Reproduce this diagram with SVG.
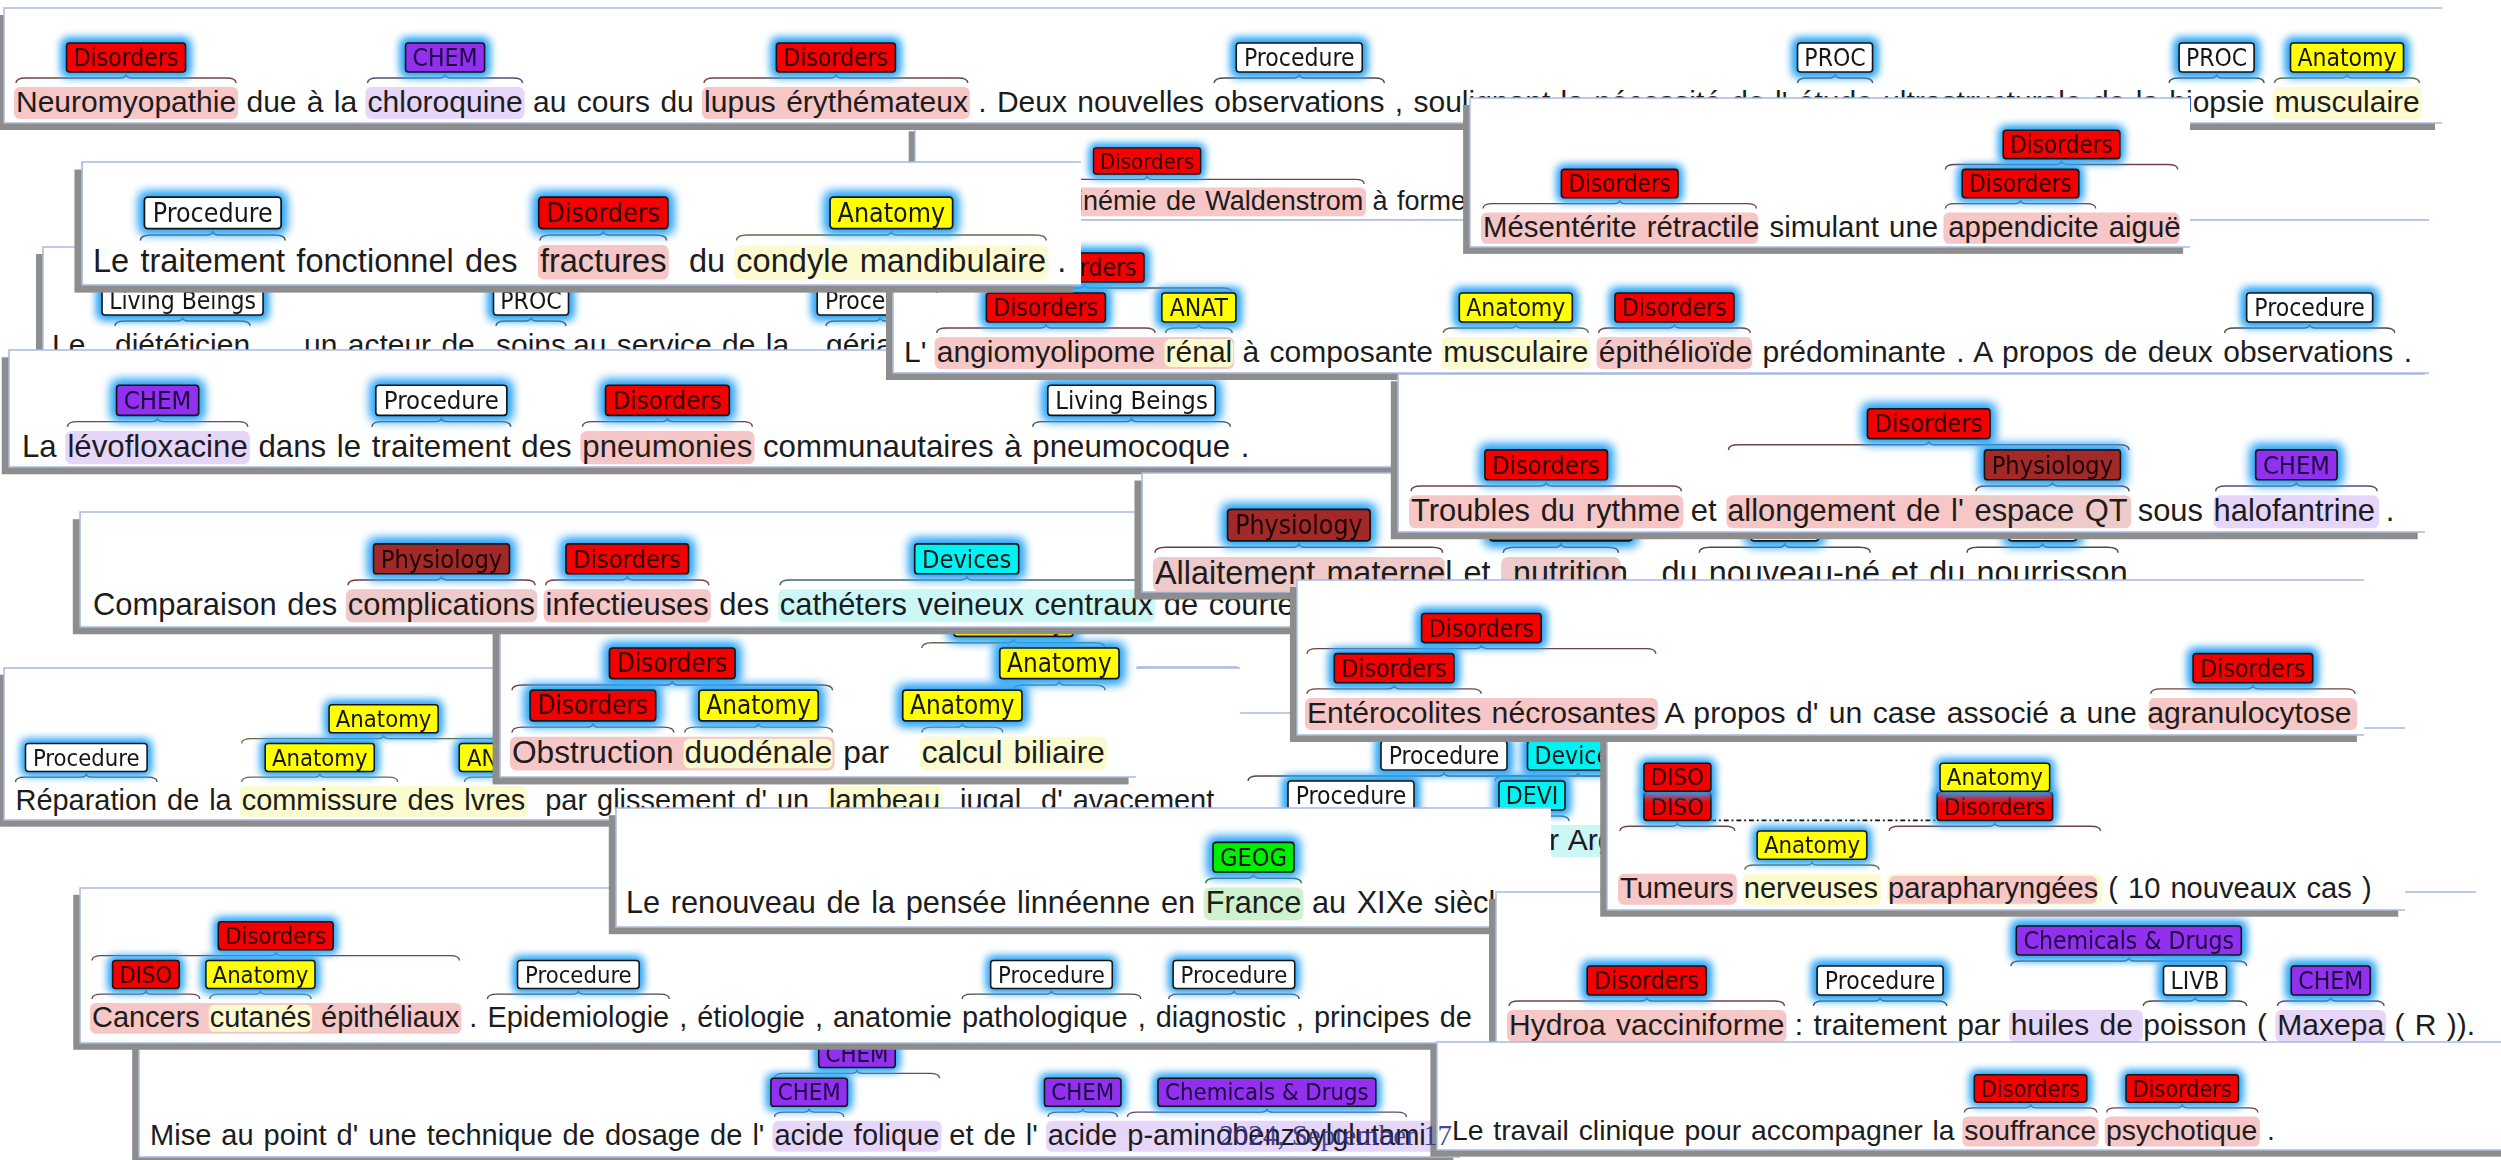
<svg xmlns="http://www.w3.org/2000/svg" width="2501" height="1160" viewBox="0 0 2501 1160">
<defs>
<filter id="glow" x="-30%" y="-80%" width="160%" height="260%" color-interpolation-filters="sRGB">
<feMorphology in="SourceAlpha" operator="dilate" radius="2.5" result="d"/>
<feGaussianBlur in="d" stdDeviation="5" result="b"/>
<feFlood flood-color="#2aa4f6"/>
<feComposite in2="b" operator="in" result="g"/>
<feMerge><feMergeNode in="g"/><feMergeNode in="g"/><feMergeNode in="SourceGraphic"/></feMerge>
</filter>
<style>
.tx{font-family:'Liberation Sans',Arial,sans-serif;font-size:30px;fill:#1c1c1c;word-spacing:2px}
.lb{filter:url(#glow)}
.lb rect{stroke:#151515;stroke-width:1.6;rx:3px}
.lb text{font-family:'DejaVu Sans Condensed','DejaVu Sans',sans-serif;font-stretch:condensed;font-size:24.5px;text-anchor:middle;fill:#161616}
.dis rect{fill:#f40000}.dis text{fill:#2a0000}
.chem rect{fill:#9130ee}.chem text{fill:#1e0640}
.anat rect{fill:#ffff00}
.proc rect{fill:#ffffff}
.phys rect{fill:#a32828}.phys text{fill:#1a0505}
.devi rect{fill:#00f2f2}
.geog rect{fill:#00ee00}
.hl{rx:6px}
.hdis{fill:#f7c6c6}.hchem{fill:#e6d6fa}.hanat{fill:#fcfacf}.hdevi{fill:#ccf7f7}.hgeog{fill:#cdf2cd}.hphys{fill:#eecaca}
.br{fill:none;stroke-width:1.4}
.bdis{stroke:#6e4444}.banat{stroke:#5e6e4a}.bchem{stroke:#5a4a7a}.bproc{stroke:#4a4a4a}.bdevi{stroke:#3e6a6a}.bgeog{stroke:#3e6a3e}.bphys{stroke:#6a3e3e}
.sh{fill:#8d8d8d}
.bg{fill:#ffffff}
.fr{fill:none;stroke:#a9b9de;stroke-width:1.5}
.rel{fill:none;stroke:#111;stroke-width:2;stroke-dasharray:5 3 2 3}
.stamp{font-family:'Liberation Serif','Times New Roman',serif;font-size:29px;fill:#2e2e85;fill-opacity:0.9}
</style>
</defs>
<rect width="2501" height="1160" fill="#ffffff"/>

<!-- sentence: dieteticien -->
<g id="p-dieteticien" transform="translate(52 355)">
<rect class="sh" x="-16" y="-101" width="960" height="123"/>
<rect class="bg" x="-9" y="-108" width="960" height="123"/>
<path class="fr" d="M951 -108H-9V15H951"/>
<text class="tx"><tspan x="0">Le</tspan><tspan x="63">diététicien</tspan><tspan x="209">,</tspan><tspan x="252">un acteur de</tspan><tspan x="444">soins</tspan><tspan x="521">au service de la</tspan><tspan x="774">géria</tspan></text>
<path class="br bproc" d="M63 -29q0-5 10-5H124.55q6 0 6-4q0 4 6 4H188.1q10 0 10 5"/>
<path class="br bproc" d="M444 -29q0-5 10-5H473q6 0 6-4q0 4 6 4H504q10 0 10 5"/>
<path class="br bproc" d="M774 -29q0-5 10-5H822.2q6 0 6-4q0 4 6 4H872.4q10 0 10 5"/>
<g class="lb proc"><rect x="50.05" y="-69" width="161" height="29"/><text x="130.55" y="-46">Living Beings</text></g>
<g class="lb proc"><rect x="441.5" y="-69" width="75" height="29"/><text x="479" y="-46">PROC</text></g>
<g class="lb proc"><rect x="765.2" y="-69" width="126" height="29"/><text x="828.2" y="-46">Procedure</text></g>
</g>

<!-- sentence: Waldenstrom -->
<g id="p-waldenstrom" transform="translate(930 210) scale(0.9)">
<rect class="sh" x="-23.7" y="-87.4" width="1682" height="105.6"/>
<rect class="bg" x="-16.7" y="-94.4" width="1682" height="105.6"/>
<path class="fr" d="M1665.3 -94.4H-16.7V11.2H1665.3"/>
<rect class="hl hdis" x="-2" y="-25" width="486.4" height="32"/>
<text class="tx" x="163.4">inémie de Waldenstrom à forme</text>
<path class="br bdis" d="M0 -29q0-5 10-5H235.2q6 0 6-4q0 4 6 4H472.4q10 0 10 5"/>
<g class="lb dis"><rect x="181.7" y="-69" width="119" height="29"/><text x="241.2" y="-46">Disorders</text></g>
</g>

<!-- sentence: Neuromyopathie -->
<g id="p-neuromyopathie" transform="translate(16 112)">
<rect class="sh" x="-19" y="-97" width="2438" height="115"/>
<rect class="bg" x="-12" y="-104" width="2438" height="115"/>
<path class="fr" d="M2426 -104H-12V11H2426"/>
<rect class="hl hdis" x="-2" y="-25" width="224.1" height="32"/>
<rect class="hl hchem" x="349.5" y="-25" width="159.1" height="32"/>
<rect class="hl hdis" x="686" y="-25" width="267.8" height="32"/>
<rect class="hl hanat" x="2256.5" y="-25" width="149" height="32"/>
<text class="tx">Neuromyopathie due à la chloroquine au cours du lupus érythémateux . Deux nouvelles observations , soulignant la nécessité de l' étude ultrastructurale de la biopsie musculaire</text>
<path class="br bdis" d="M0 -29q0-5 10-5H104.05q6 0 6-4q0 4 6 4H210.1q10 0 10 5"/>
<path class="br bchem" d="M351.5 -29q0-5 10-5H423.05q6 0 6-4q0 4 6 4H496.6q10 0 10 5"/>
<path class="br bdis" d="M688 -29q0-5 10-5H813.9q6 0 6-4q0 4 6 4H941.8q10 0 10 5"/>
<path class="br bproc" d="M1198.2 -29q0-5 10-5H1277.25q6 0 6-4q0 4 6 4H1358.3q10 0 10 5"/>
<path class="br bproc" d="M1781.5 -29q0-5 10-5H1813.05q6 0 6-4q0 4 6 4H1846.6q10 0 10 5"/>
<path class="br bproc" d="M2153.1 -29q0-5 10-5H2194.6q6 0 6-4q0 4 6 4H2238.1q10 0 10 5"/>
<path class="br banat" d="M2258.5 -29q0-5 10-5H2325q6 0 6-4q0 4 6 4H2393.5q10 0 10 5"/>
<g class="lb dis"><rect x="50.55" y="-69" width="119" height="29"/><text x="110.05" y="-46">Disorders</text></g>
<g class="lb chem"><rect x="389.55" y="-69" width="79" height="29"/><text x="429.05" y="-46">CHEM</text></g>
<g class="lb dis"><rect x="760.4" y="-69" width="119" height="29"/><text x="819.9" y="-46">Disorders</text></g>
<g class="lb proc"><rect x="1220.25" y="-69" width="126" height="29"/><text x="1283.25" y="-46">Procedure</text></g>
<g class="lb proc"><rect x="1781.55" y="-69" width="75" height="29"/><text x="1819.05" y="-46">PROC</text></g>
<g class="lb proc"><rect x="2163.1" y="-69" width="75" height="29"/><text x="2200.6" y="-46">PROC</text></g>
<g class="lb anat"><rect x="2274.5" y="-69" width="113" height="29"/><text x="2331" y="-46">Anatomy</text></g>
</g>

<!-- sentence: levofloxacine -->
<g id="p-levofloxacine" transform="translate(22 457) scale(1.04)">
<rect class="sh" x="-19.5" y="-95.9" width="1356.7" height="112.5"/>
<rect class="bg" x="-12.5" y="-102.9" width="1356.7" height="112.5"/>
<path class="fr" d="M1344.2 -102.9H-12.5V9.6H1344.2"/>
<rect class="hl hchem" x="41.7" y="-25" width="177.4" height="32"/>
<rect class="hl hdis" x="536.9" y="-25" width="167.4" height="32"/>
<text class="tx">La lévofloxacine dans le traitement des pneumonies communautaires à pneumocoque .</text>
<path class="br bchem" d="M43.7 -29q0-5 10-5H124.4q6 0 6-4q0 4 6 4H207.1q10 0 10 5"/>
<path class="br bproc" d="M336.5 -29q0-5 10-5H397.2q6 0 6-4q0 4 6 4H459.9q10 0 10 5"/>
<path class="br bdis" d="M538.9 -29q0-5 10-5H614.6q6 0 6-4q0 4 6 4H692.3q10 0 10 5"/>
<path class="br bproc" d="M971.8 -29q0-5 10-5H1060.85q6 0 6-4q0 4 6 4H1151.9q10 0 10 5"/>
<g class="lb chem"><rect x="90.9" y="-69" width="79" height="29"/><text x="130.4" y="-46">CHEM</text></g>
<g class="lb proc"><rect x="340.2" y="-69" width="126" height="29"/><text x="403.2" y="-46">Procedure</text></g>
<g class="lb dis"><rect x="561.1" y="-69" width="119" height="29"/><text x="620.6" y="-46">Disorders</text></g>
<g class="lb proc"><rect x="986.35" y="-69" width="161" height="29"/><text x="1066.85" y="-46">Living Beings</text></g>
</g>

<!-- sentence: angiomyolipome -->
<g id="p-angiomyolipome" transform="translate(904 362)">
<rect class="sh" x="-18" y="-135" width="1536" height="153"/>
<rect class="bg" x="-11" y="-142" width="1536" height="153"/>
<path class="fr" d="M1525 -142H-11V11H1525"/>
<rect class="hl hdis" x="30.7" y="-25" width="299.5" height="32"/>
<rect class="hl hanat" x="260.5" y="-23" width="68.7" height="28"/>
<rect class="hl hanat" x="537.3" y="-25" width="149" height="32"/>
<rect class="hl hdis" x="692.6" y="-25" width="155.7" height="32"/>
<text class="tx">L' angiomyolipome rénal à composante musculaire épithélioïde prédominante . A propos de deux observations .</text>
<path class="br bdis" d="M32.7 -69q0-5 10-5H174.45q6 0 6-4q0 4 6 4H318.2q10 0 10 5"/>
<path class="br bdis" d="M32.7 -29q0-5 10-5H135.9q6 0 6-4q0 4 6 4H241.1q10 0 10 5"/>
<path class="br banat" d="M261.5 -29q0-5 10-5H288.85q6 0 6-4q0 4 6 4H318.2q10 0 10 5"/>
<path class="br banat" d="M539.3 -29q0-5 10-5H605.8q6 0 6-4q0 4 6 4H674.3q10 0 10 5"/>
<path class="br bdis" d="M694.6 -29q0-5 10-5H764.45q6 0 6-4q0 4 6 4H836.3q10 0 10 5"/>
<path class="br bproc" d="M1320.6 -29q0-5 10-5H1399.65q6 0 6-4q0 4 6 4H1480.7q10 0 10 5"/>
<g class="lb dis"><rect x="120.95" y="-109" width="119" height="29"/><text x="180.45" y="-86">Disorders</text></g>
<g class="lb dis"><rect x="82.4" y="-69" width="119" height="29"/><text x="141.9" y="-46">Disorders</text></g>
<g class="lb anat"><rect x="257.85" y="-69" width="74" height="29"/><text x="294.85" y="-46">ANAT</text></g>
<g class="lb anat"><rect x="555.3" y="-69" width="113" height="29"/><text x="611.8" y="-46">Anatomy</text></g>
<g class="lb dis"><rect x="710.95" y="-69" width="119" height="29"/><text x="770.45" y="-46">Disorders</text></g>
<g class="lb proc"><rect x="1342.65" y="-69" width="126" height="29"/><text x="1405.65" y="-46">Procedure</text></g>
</g>

<!-- sentence: condyle mandibulaire -->
<g id="p-condyle" transform="translate(93 272) scale(1.085)">
<rect class="sh" x="-17.1" y="-94.4" width="920.7" height="113.4"/>
<rect class="bg" x="-10.1" y="-101.4" width="920.7" height="113.4"/>
<path class="fr" d="M910.6 -101.4H-10.1V12H910.6"/>
<rect class="hl hdis" x="410" y="-25" width="120.7" height="32"/>
<rect class="hl hanat" x="591.1" y="-25" width="289.4" height="32"/>
<text class="tx" xml:space="preserve">Le traitement fonctionnel des  fractures  du condyle mandibulaire .</text>
<path class="br bproc" d="M43.7 -29q0-5 10-5H104.4q6 0 6-4q0 4 6 4H167.1q10 0 10 5"/>
<path class="br bdis" d="M412 -29q0-5 10-5H464.35q6 0 6-4q0 4 6 4H518.7q10 0 10 5"/>
<path class="br banat" d="M593.1 -29q0-5 10-5H729.8q6 0 6-4q0 4 6 4H868.5q10 0 10 5"/>
<g class="lb proc"><rect x="47.4" y="-69" width="126" height="29"/><text x="110.4" y="-46">Procedure</text></g>
<g class="lb dis"><rect x="410.85" y="-69" width="119" height="29"/><text x="470.35" y="-46">Disorders</text></g>
<g class="lb anat"><rect x="679.3" y="-69" width="113" height="29"/><text x="735.8" y="-46">Anatomy</text></g>
</g>

<!-- sentence: mesenterite -->
<g id="p-mesenterite" transform="translate(1483 237) scale(0.98)">
<rect class="sh" x="-20.3" y="-134.8" width="734.7" height="152"/>
<rect class="bg" x="-13.3" y="-141.8" width="734.7" height="152"/>
<path class="fr" d="M721.4 -141.8H-13.3V10.2H721.4"/>
<rect class="hl hdis" x="-2" y="-25" width="283" height="32"/>
<rect class="hl hdis" x="469.8" y="-25" width="241.1" height="32"/>
<text class="tx">Mésentérite rétractile simulant une appendicite aiguë</text>
<path class="br bdis" d="M0 -29q0-5 10-5H133.5q6 0 6-4q0 4 6 4H269q10 0 10 5"/>
<path class="br bdis" d="M471.8 -29q0-5 10-5H542.5q6 0 6-4q0 4 6 4H615.2q10 0 10 5"/>
<path class="br bdis" d="M471.8 -69q0-5 10-5H584.35q6 0 6-4q0 4 6 4H698.9q10 0 10 5"/>
<g class="lb dis"><rect x="80" y="-69" width="119" height="29"/><text x="139.5" y="-46">Disorders</text></g>
<g class="lb dis"><rect x="489" y="-69" width="119" height="29"/><text x="548.5" y="-46">Disorders</text></g>
<g class="lb dis"><rect x="530.85" y="-109" width="119" height="29"/><text x="590.35" y="-86">Disorders</text></g>
</g>

<!-- edge of a frame lying underneath -->
<path class="fr" d="M1137 667H1238"/>

<!-- sentence: commissure des levres -->
<g id="p-commissure" transform="translate(15.5 810) scale(0.965)">
<rect class="sh" x="-18.9" y="-140.2" width="1280.8" height="157.5"/>
<rect class="bg" x="-11.9" y="-147.2" width="1280.8" height="157.5"/>
<path class="fr" d="M1268.9 -147.2H-11.9V10.3H1268.9"/>
<rect class="hl hanat" x="232.4" y="-25" width="298.1" height="32"/>
<rect class="hl hanat" x="841.5" y="-25" width="119.1" height="32"/>
<text class="tx" xml:space="preserve">Réparation de la commissure des lvres  par glissement d' un  lambeau  jugal  d' avacement</text>
<path class="br bproc" d="M0 -29q0-5 10-5H67.35q6 0 6-4q0 4 6 4H136.7q10 0 10 5"/>
<path class="br banat" d="M234.4 -29q0-5 10-5H309.25q6 0 6-4q0 4 6 4H386.1q10 0 10 5"/>
<path class="br banat" d="M465.2 -29q0-5 10-5H490.85q6 0 6-4q0 4 6 4H518.5q10 0 10 5"/>
<path class="br banat" d="M234.4 -69q0-5 10-5H375.45q6 0 6-4q0 4 6 4H518.5q10 0 10 5"/>
<path class="br banat" d="M843.5 -29q0-5 10-5H895.05q6 0 6-4q0 4 6 4H948.6q10 0 10 5"/>
<path class="br banat" d="M979.3 -29q0-5 10-5H1005q6 0 6-4q0 4 6 4H1032.7q10 0 10 5"/>
<g class="lb proc"><rect x="10.35" y="-69" width="126" height="29"/><text x="73.35" y="-46">Procedure</text></g>
<g class="lb anat"><rect x="258.75" y="-69" width="113" height="29"/><text x="315.25" y="-46">Anatomy</text></g>
<g class="lb anat"><rect x="459.85" y="-69" width="74" height="29"/><text x="496.85" y="-46">ANAT</text></g>
<g class="lb anat"><rect x="324.95" y="-109" width="113" height="29"/><text x="381.45" y="-86">Anatomy</text></g>
</g>

<!-- sentence: obstruction duodenale -->
<g id="p-obstruction" transform="translate(512 763) scale(1.055)">
<rect class="sh" x="-18.4" y="-152.2" width="602.8" height="172.5"/>
<rect class="bg" x="-11.4" y="-159.2" width="602.8" height="172.5"/>
<path class="fr" d="M591.4 -159.2H-11.4V13.3H591.4"/>
<rect class="hl hdis" x="-2" y="-25" width="307.8" height="32"/>
<rect class="hl hanat" x="162.7" y="-23" width="141.1" height="28"/>
<rect class="hl hanat" x="386.5" y="-25" width="177.7" height="32"/>
<text class="tx" xml:space="preserve">Obstruction duodénale par   calcul biliaire</text>
<path class="br bdis" d="M0 -29q0-5 10-5H70.7q6 0 6-4q0 4 6 4H143.4q10 0 10 5"/>
<path class="br banat" d="M163.7 -29q0-5 10-5H227.75q6 0 6-4q0 4 6 4H293.8q10 0 10 5"/>
<path class="br bdis" d="M0 -69q0-5 10-5H145.9q6 0 6-4q0 4 6 4H293.8q10 0 10 5"/>
<path class="br banat" d="M388.5 -29q0-5 10-5H420.85q6 0 6-4q0 4 6 4H455.2q10 0 10 5"/>
<path class="br banat" d="M475.5 -69q0-5 10-5H512.85q6 0 6-4q0 4 6 4H552.2q10 0 10 5"/>
<path class="br banat" d="M388.5 -109q0-5 10-5H469.35q6 0 6-4q0 4 6 4H552.2q10 0 10 5"/>
<g class="lb dis"><rect x="17.2" y="-69" width="119" height="29"/><text x="76.7" y="-46">Disorders</text></g>
<g class="lb anat"><rect x="177.25" y="-69" width="113" height="29"/><text x="233.75" y="-46">Anatomy</text></g>
<g class="lb dis"><rect x="92.4" y="-109" width="119" height="29"/><text x="151.9" y="-86">Disorders</text></g>
<g class="lb anat"><rect x="370.35" y="-69" width="113" height="29"/><text x="426.85" y="-46">Anatomy</text></g>
<g class="lb anat"><rect x="462.35" y="-109" width="113" height="29"/><text x="518.85" y="-86">Anatomy</text></g>
<g class="lb anat"><rect x="418.85" y="-149" width="113" height="29"/><text x="475.35" y="-126">Anatomy</text></g>
</g>

<!-- sentence: catheters -->
<g id="p-catheters" transform="translate(93 615) scale(1.03)">
<rect class="sh" x="-19.6" y="-93" width="1184.5" height="111.7"/>
<rect class="bg" x="-12.6" y="-100" width="1184.5" height="111.7"/>
<path class="fr" d="M1171.9 -100H-12.6V11.7H1171.9"/>
<rect class="hl hphys" x="245.5" y="-25" width="185.7" height="32"/>
<rect class="hl hdis" x="437.5" y="-25" width="162.4" height="32"/>
<rect class="hl hdevi" x="665" y="-25" width="366.5" height="32"/>
<text class="tx">Comparaison des complications infectieuses des cathéters veineux centraux de courte</text>
<path class="br bphys" d="M247.5 -29q0-5 10-5H332.35q6 0 6-4q0 4 6 4H419.2q10 0 10 5"/>
<path class="br bdis" d="M439.5 -29q0-5 10-5H512.7q6 0 6-4q0 4 6 4H587.9q10 0 10 5"/>
<path class="br bdevi" d="M667 -29q0-5 10-5H842.25q6 0 6-4q0 4 6 4H1019.5q10 0 10 5"/>
<g class="lb phys"><rect x="272.35" y="-69" width="132" height="29"/><text x="338.35" y="-46">Physiology</text></g>
<g class="lb dis"><rect x="459.2" y="-69" width="119" height="29"/><text x="518.7" y="-46">Disorders</text></g>
<g class="lb devi"><rect x="797.75" y="-69" width="101" height="29"/><text x="848.25" y="-46">Devices</text></g>
</g>

<!-- sentence: allaitement -->
<g id="p-allaitement" transform="translate(1155 584) scale(1.08)">
<rect class="sh" x="-19" y="-95.8" width="924" height="110.2"/>
<rect class="bg" x="-12" y="-102.8" width="924" height="110.2"/>
<path class="fr" d="M912 -102.8H-12V7.4H912"/>
<rect class="hl hphys" x="-2" y="-25" width="270.4" height="32"/>
<rect class="hl hphys" x="320.5" y="-25" width="110.7" height="32"/>
<text class="tx" xml:space="preserve">Allaitement maternel et  nutrition   du nouveau-né et du nourrisson</text>
<path class="br bphys" d="M0 -29q0-5 10-5H127.2q6 0 6-4q0 4 6 4H256.4q10 0 10 5"/>
<path class="br bphys" d="M322.5 -29q0-5 10-5H369.85q6 0 6-4q0 4 6 4H419.2q10 0 10 5"/>
<path class="br bproc" d="M503.9 -29q0-5 10-5H577.1q6 0 6-4q0 4 6 4H652.3q10 0 10 5"/>
<path class="br bproc" d="M751.8 -29q0-5 10-5H815.8q6 0 6-4q0 4 6 4H881.8q10 0 10 5"/>
<g class="lb phys"><rect x="67.2" y="-69" width="132" height="29"/><text x="133.2" y="-46">Physiology</text></g>
<g class="lb phys"><rect x="309.85" y="-69" width="132" height="29"/></g>
<g class="lb proc"><rect x="551.6" y="-69" width="63" height="29"/></g>
<g class="lb proc"><rect x="790.3" y="-69" width="63" height="29"/></g>
</g>

<!-- sentence: troubles du rythme -->
<g id="p-troubles" transform="translate(1411 521) scale(1.03)">
<rect class="sh" x="-19.6" y="-135.7" width="997" height="153.4"/>
<rect class="bg" x="-12.6" y="-142.7" width="997" height="153.4"/>
<path class="fr" d="M984.4 -142.7H-12.6V10.7H984.4"/>
<rect class="hl hdis" x="-2" y="-25" width="266.5" height="32"/>
<rect class="hl hdis" x="306.2" y="-25" width="392.9" height="32"/>
<rect class="hl hphys" x="547.4" y="-24" width="150.7" height="30"/>
<rect class="hl hchem" x="779.2" y="-25" width="160.8" height="32"/>
<text class="tx">Troubles du rythme et allongement de l' espace QT sous halofantrine .</text>
<path class="br bdis" d="M0 -29q0-5 10-5H125.25q6 0 6-4q0 4 6 4H252.5q10 0 10 5"/>
<path class="br bdis" d="M308.2 -69q0-5 10-5H496.65q6 0 6-4q0 4 6 4H687.1q10 0 10 5"/>
<path class="br bphys" d="M548.4 -29q0-5 10-5H616.75q6 0 6-4q0 4 6 4H687.1q10 0 10 5"/>
<path class="br bchem" d="M781.2 -29q0-5 10-5H853.6q6 0 6-4q0 4 6 4H928q10 0 10 5"/>
<g class="lb dis"><rect x="71.75" y="-69" width="119" height="29"/><text x="131.25" y="-46">Disorders</text></g>
<g class="lb dis"><rect x="443.15" y="-109" width="119" height="29"/><text x="502.65" y="-86">Disorders</text></g>
<g class="lb phys"><rect x="556.75" y="-69" width="132" height="29"/><text x="622.75" y="-46">Physiology</text></g>
<g class="lb chem"><rect x="820.1" y="-69" width="79" height="29"/><text x="859.6" y="-46">CHEM</text></g>
</g>

<!-- sentence: devices fragment -->
<g id="p-devices" transform="translate(1240 850)">
<rect class="bg" x="0" y="-137" width="400" height="150"/>
<path class="fr" d="M400 -137H0"/>
<rect class="hl hdevi" x="253" y="-25" width="170" height="32"/>
<text class="tx" x="309">r Arg</text>
<path class="br bproc" d="M8 -69q0-5 10-5H198q6 0 6-4q0 4 6 4H390q10 0 10 5"/>
<path class="br bdevi" d="M255 -69q0-5 10-5H332q6 0 6-4q0 4 6 4H411q10 0 10 5"/>
<path class="br bproc" d="M50 -29q0-5 10-5H105q6 0 6-4q0 4 6 4H162q10 0 10 5"/>
<path class="br bdevi" d="M255 -29q0-5 10-5H286q6 0 6-4q0 4 6 4H319q10 0 10 5"/>
<g class="lb proc"><rect x="141" y="-109" width="126" height="29"/><text x="204" y="-86">Procedure</text></g>
<g class="lb devi"><rect x="287.5" y="-109" width="101" height="29"/><text x="338" y="-86">Devices</text></g>
<g class="lb proc"><rect x="48" y="-69" width="126" height="29"/><text x="111" y="-46">Procedure</text></g>
<g class="lb devi"><rect x="259" y="-69" width="66" height="29"/><text x="292" y="-46">DEVI</text></g>
</g>

<!-- sentence: acide folique -->
<g id="p-acide-folique" transform="translate(150 1145) scale(0.968)">
<rect class="sh" x="-18.4" y="-111.8" width="1364.7" height="131.2"/>
<rect class="bg" x="-11.4" y="-118.8" width="1364.7" height="131.2"/>
<path class="fr" d="M1353.3 -118.8H-11.4V12.4H1353.3"/>
<rect class="hl hchem" x="643.1" y="-25" width="174.5" height="32"/>
<rect class="hl hchem" x="925.7" y="-25" width="444.5" height="32"/>
<text class="tx">Mise au point d' une technique de dosage de l' acide folique et de l' acide p-aminobenzoylglutami</text>
<path class="br bchem" d="M645.1 -29q0-5 10-5H674.95q6 0 6-4q0 4 6 4H706.8q10 0 10 5"/>
<path class="br bchem" d="M645.1 -69q0-5 10-5H724.35q6 0 6-4q0 4 6 4H805.6q10 0 10 5"/>
<path class="br bchem" d="M927.7 -29q0-5 10-5H957.55q6 0 6-4q0 4 6 4H989.4q10 0 10 5"/>
<path class="br bchem" d="M1009.7 -29q0-5 10-5H1147.85q6 0 6-4q0 4 6 4H1288q10 0 10 5"/>
<g class="lb chem"><rect x="641.45" y="-69" width="79" height="29"/><text x="680.95" y="-46">CHEM</text></g>
<g class="lb chem"><rect x="690.85" y="-109" width="79" height="29"/><text x="730.35" y="-86">CHEM</text></g>
<g class="lb chem"><rect x="924.05" y="-69" width="79" height="29"/><text x="963.55" y="-46">CHEM</text></g>
<g class="lb chem"><rect x="1041.35" y="-69" width="225" height="29"/><text x="1153.85" y="-46">Chemicals &amp; Drugs</text></g>
</g>

<!-- sentence: cancers cutanes -->
<g id="p-cancers" transform="translate(92 1027) scale(0.965)">
<rect class="sh" x="-19.4" y="-137" width="1471.5" height="160.6"/>
<rect class="bg" x="-12.4" y="-144" width="1471.5" height="160.6"/>
<path class="fr" d="M1459.1 -144H-12.4V16.6H1459.1"/>
<rect class="hl hdis" x="-2" y="-25" width="384.8" height="32"/>
<rect class="hl hanat" x="121" y="-23" width="107.1" height="28"/>
<text class="tx">Cancers cutanés épithéliaux . Epidemiologie , étiologie , anatomie pathologique , diagnostic , principes de</text>
<path class="br bdis" d="M0 -29q0-5 10-5H49.85q6 0 6-4q0 4 6 4H101.7q10 0 10 5"/>
<path class="br banat" d="M122 -29q0-5 10-5H168.55q6 0 6-4q0 4 6 4H217.1q10 0 10 5"/>
<path class="br bdis" d="M0 -69q0-5 10-5H184.4q6 0 6-4q0 4 6 4H370.8q10 0 10 5"/>
<path class="br bproc" d="M409.8 -29q0-5 10-5H498q6 0 6-4q0 4 6 4H588.2q10 0 10 5"/>
<path class="br bproc" d="M901.7 -29q0-5 10-5H988.25q6 0 6-4q0 4 6 4H1076.8q10 0 10 5"/>
<path class="br bproc" d="M1115.8 -29q0-5 10-5H1177.35q6 0 6-4q0 4 6 4H1240.9q10 0 10 5"/>
<g class="lb dis"><rect x="21.35" y="-69" width="69" height="29"/><text x="55.85" y="-46">DISO</text></g>
<g class="lb anat"><rect x="118.05" y="-69" width="113" height="29"/><text x="174.55" y="-46">Anatomy</text></g>
<g class="lb dis"><rect x="130.9" y="-109" width="119" height="29"/><text x="190.4" y="-86">Disorders</text></g>
<g class="lb proc"><rect x="441" y="-69" width="126" height="29"/><text x="504" y="-46">Procedure</text></g>
<g class="lb proc"><rect x="931.25" y="-69" width="126" height="29"/><text x="994.25" y="-46">Procedure</text></g>
<g class="lb proc"><rect x="1120.35" y="-69" width="126" height="29"/><text x="1183.35" y="-46">Procedure</text></g>
</g>

<!-- sentence: pensee linneenne -->
<g id="p-linneenne" transform="translate(626 913) scale(1.024)">
<rect class="sh" x="-16.8" y="-95.5" width="913" height="116.2"/>
<rect class="bg" x="-9.8" y="-102.5" width="913" height="116.2"/>
<path class="fr" d="M903.2 -102.5H-9.8V13.7H903.2"/>
<rect class="hl hgeog" x="564.1" y="-25" width="97.4" height="32"/>
<text class="tx">Le renouveau de la pensée linnéenne en France au XIXe siècle</text>
<path class="br bgeog" d="M566.1 -29q0-5 10-5H606.8q6 0 6-4q0 4 6 4H649.5q10 0 10 5"/>
<g class="lb geog"><rect x="573.3" y="-69" width="79" height="29"/><text x="612.8" y="-46">GEOG</text></g>
</g>

<!-- sentence: hydroa -->
<g id="p-hydroa" transform="translate(1509 1035)">
<rect class="sh" x="-20" y="-136" width="980" height="154"/>
<rect class="bg" x="-13" y="-143" width="980" height="154"/>
<path class="fr" d="M967 -143H-13V11H967"/>
<rect class="hl hdis" x="-2" y="-25" width="279.4" height="32"/>
<rect class="hl hchem" x="499.9" y="-25" width="134" height="32"/>
<rect class="hl hchem" x="766.4" y="-25" width="110.7" height="32"/>
<text class="tx">Hydroa vacciniforme : traitement par huiles de poisson ( Maxepa ( R )).</text>
<path class="br bdis" d="M0 -29q0-5 10-5H131.7q6 0 6-4q0 4 6 4H265.4q10 0 10 5"/>
<path class="br bproc" d="M304.4 -29q0-5 10-5H365.1q6 0 6-4q0 4 6 4H427.8q10 0 10 5"/>
<path class="br bchem" d="M501.9 -69q0-5 10-5H613.8q6 0 6-4q0 4 6 4H727.7q10 0 10 5"/>
<path class="br bproc" d="M634.3 -29q0-5 10-5H680q6 0 6-4q0 4 6 4H727.7q10 0 10 5"/>
<path class="br bchem" d="M768.4 -29q0-5 10-5H815.75q6 0 6-4q0 4 6 4H865.1q10 0 10 5"/>
<g class="lb dis"><rect x="78.2" y="-69" width="119" height="29"/><text x="137.7" y="-46">Disorders</text></g>
<g class="lb proc"><rect x="308.1" y="-69" width="126" height="29"/><text x="371.1" y="-46">Procedure</text></g>
<g class="lb chem"><rect x="507.3" y="-109" width="225" height="29"/><text x="619.8" y="-86">Chemicals &amp; Drugs</text></g>
<g class="lb proc"><rect x="654.5" y="-69" width="63" height="29"/><text x="686" y="-46">LIVB</text></g>
<g class="lb chem"><rect x="782.25" y="-69" width="79" height="29"/><text x="821.75" y="-46">CHEM</text></g>
</g>

<!-- sentence: tumeurs nerveuses -->
<g id="p-tumeurs" transform="translate(1620 898) scale(0.97)">
<rect class="sh" x="-20.4" y="-168.3" width="822.7" height="187.6"/>
<rect class="bg" x="-13.4" y="-175.3" width="822.7" height="187.6"/>
<path class="fr" d="M809.3 -175.3H-13.4V12.3H809.3"/>
<rect class="hl hdis" x="-2" y="-25" width="122.4" height="32"/>
<rect class="hl hanat" x="126.7" y="-25" width="142.4" height="32"/>
<rect class="hl hanat" x="275.5" y="-25" width="221.9" height="32"/>
<rect class="hl hdis" x="277.5" y="-23" width="214" height="29"/>
<text class="tx">Tumeurs nerveuses parapharyngées ( 10 nouveaux cas )</text>
<path class="br bdis" d="M0 -69q0-5 10-5H53.2q6 0 6-4q0 4 6 4H108.4q10 0 10 5"/>
<path class="br banat" d="M128.7 -29q0-5 10-5H191.9q6 0 6-4q0 4 6 4H257.1q10 0 10 5"/>
<path class="br bdis" d="M277.5 -69q0-5 10-5H380.45q6 0 6-4q0 4 6 4H485.4q10 0 10 5"/>
<path class="rel" d="M94 -80H327"/>
<g class="lb dis"><rect x="24.7" y="-109" width="69" height="29"/><text x="59.2" y="-86">DISO</text></g>
<g class="lb dis"><rect x="24.7" y="-139" width="69" height="29"/><text x="59.2" y="-116">DISO</text></g>
<g class="lb anat"><rect x="141.4" y="-69" width="113" height="29"/><text x="197.9" y="-46">Anatomy</text></g>
<g class="lb dis"><rect x="326.95" y="-109" width="119" height="29"/><text x="386.45" y="-86">Disorders</text></g>
<g class="lb anat"><rect x="329.95" y="-139" width="113" height="29"/><text x="386.45" y="-116">Anatomy</text></g>
</g>

<!-- sentence: enterocolites -->
<g id="p-enterocolites" transform="translate(1307 723) scale(1.005)">
<rect class="sh" x="-17" y="-135.3" width="1061.7" height="154.2"/>
<rect class="bg" x="-10" y="-142.3" width="1061.7" height="154.2"/>
<path class="fr" d="M1051.7 -142.3H-10V11.9H1051.7"/>
<rect class="hl hdis" x="-2" y="-25" width="351.1" height="32"/>
<rect class="hl hdis" x="837.5" y="-25" width="207.4" height="32"/>
<text class="tx">Entérocolites nécrosantes A propos d' un case associé a une agranulocytose</text>
<path class="br bdis" d="M0 -29q0-5 10-5H80.7q6 0 6-4q0 4 6 4H163.4q10 0 10 5"/>
<path class="br bdis" d="M0 -69q0-5 10-5H167.55q6 0 6-4q0 4 6 4H337.1q10 0 10 5"/>
<path class="br bdis" d="M839.5 -29q0-5 10-5H935.2q6 0 6-4q0 4 6 4H1032.9q10 0 10 5"/>
<g class="lb dis"><rect x="27.2" y="-69" width="119" height="29"/><text x="86.7" y="-46">Disorders</text></g>
<g class="lb dis"><rect x="114.05" y="-109" width="119" height="29"/><text x="173.55" y="-86">Disorders</text></g>
<g class="lb dis"><rect x="881.7" y="-69" width="119" height="29"/><text x="941.2" y="-46">Disorders</text></g>
</g>

<!-- sentence: travail clinique -->
<g id="p-travail" transform="translate(1452 1140) scale(0.945)">
<rect class="sh" x="-22.9" y="-96.7" width="1135" height="114.3"/>
<rect class="bg" x="-15.9" y="-103.7" width="1135" height="114.3"/>
<path class="fr" d="M1119.1 -103.7H-15.9V10.6H1119.1"/>
<rect class="hl hdis" x="540.2" y="-25" width="144.1" height="32"/>
<rect class="hl hdis" x="690.7" y="-25" width="164.1" height="32"/>
<text class="tx">Le travail clinique pour accompagner la souffrance psychotique .</text>
<path class="br bdis" d="M542.2 -29q0-5 10-5H606.25q6 0 6-4q0 4 6 4H672.3q10 0 10 5"/>
<path class="br bdis" d="M692.7 -29q0-5 10-5H766.75q6 0 6-4q0 4 6 4H842.8q10 0 10 5"/>
<g class="lb dis"><rect x="552.75" y="-69" width="119" height="29"/><text x="612.25" y="-46">Disorders</text></g>
<g class="lb dis"><rect x="713.25" y="-69" width="119" height="29"/><text x="772.75" y="-46">Disorders</text></g>
</g>

<!-- date stamp printed over the lower sentences -->
<text id="stamp" class="stamp" x="1452" y="1145" text-anchor="end">2024, September 17</text>
</svg>
